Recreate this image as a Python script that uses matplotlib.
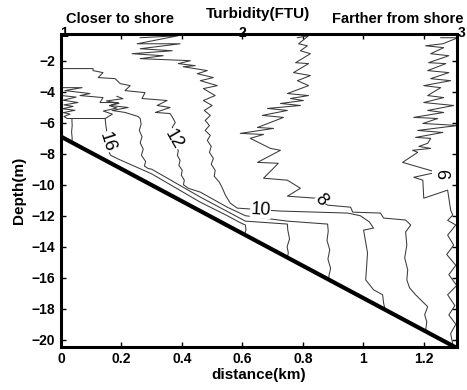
import matplotlib
matplotlib.use("Agg")
import matplotlib.pyplot as plt
import matplotlib.transforms as mtransforms

plt.rcParams['font.family'] = ['Liberation Sans', 'DejaVu Sans']

# seabed
bed_x = [0.0, 1.31]
bed_d = [-6.9, -20.54]

# contour lines (distance km, depth m)
l18_x = [0.003, 0.050, 0.007, 0.056, 0.010, 0.040, 0.005, 0.046, 0.008, 0.030, 0.010, 0.020, 0.146]
l18_d = [-4.25, -4.35, -4.55, -4.7, -4.85, -4.95, -5.1, -5.2, -5.35, -5.45, -5.6, -5.73, -5.73]
drop18_x = [0.036, 0.037, 0.035, 0.037, 0.036]
drop18_d = [-5.73, -6.2, -6.6, -7.0, -7.28]

l16_x = [0.185, 0.205, 0.150, 0.192, 0.160, 0.185, 0.140, 0.170, 0.146, 0.148, 0.151, 0.147, 0.150,
         0.155, 0.160, 0.164, 0.190, 0.300, 0.461, 0.550, 0.593, 0.610, 0.612, 0.609, 0.611]
l16_d = [-4.3, -4.45, -4.6, -4.75, -4.9, -5.05, -5.25, -5.45, -5.73, -6.1, -6.5, -6.9, -7.3,
         -7.7, -7.95, -8.1, -8.35, -9.3, -11.13, -12.0, -12.45, -12.6, -12.9, -13.1, -13.26]

l14_x = [0.007, 0.070, 0.013, 0.096, 0.063, 0.139, 0.129, 0.189, 0.162, 0.222, 0.169, 0.212, 0.255,
         0.262, 0.265, 0.259, 0.268, 0.262, 0.272, 0.266, 0.280, 0.276, 0.288, 0.300, 0.461, 0.610,
         0.749, 0.750, 0.756, 0.748, 0.752, 0.749]
l14_d = [-3.74, -3.74, -3.93, -4.12, -4.25, -4.38, -4.70, -4.70, -4.89, -5.02, -5.21, -5.34, -5.60,
         -5.73, -6.1, -6.5, -6.9, -7.3, -7.7, -8.1, -8.5, -8.8, -8.95, -9.0, -10.8, -12.35,
         -12.54, -12.9, -13.5, -14.0, -14.4, -14.68]

l12_x = [0.0, 0.106, 0.106, 0.139, 0.123, 0.179, 0.196, 0.229, 0.212, 0.278, 0.268, 0.351, 0.318,
         0.361, 0.312, 0.361, 0.371, 0.378, 0.368, 0.381, 0.376, 0.383, 0.380, 0.388, 0.385, 0.394,
         0.390, 0.401, 0.398, 0.408, 0.405, 0.421, 0.461, 0.550, 0.610, 0.749, 0.882, 0.884, 0.880,
         0.889, 0.883, 0.892, 0.886, 0.888]
l12_d = [-2.51, -2.51, -2.64, -2.77, -3.09, -3.16, -3.48, -3.61, -3.93, -4.06, -4.44, -4.57, -4.89,
         -5.02, -5.34, -5.41, -5.73, -5.99, -6.3, -6.6, -6.9, -7.2, -7.5, -7.8, -8.11, -8.43,
         -8.75, -9.07, -9.39, -9.71, -10.0, -10.23, -10.48, -11.45, -12.0, -12.35, -12.54, -13.0, -13.6,
         -14.2, -14.8, -15.4, -15.9, -16.15]

l10_x = [0.262, 0.388, 0.252, 0.394, 0.262, 0.368, 0.235, 0.338, 0.262, 0.428, 0.388, 0.444, 0.404,
         0.484, 0.451, 0.504, 0.461, 0.517, 0.471, 0.510, 0.471, 0.500, 0.474, 0.494, 0.477, 0.491,
         0.477, 0.494, 0.484, 0.497, 0.491, 0.504, 0.497, 0.510, 0.507, 0.524, 0.534, 0.544, 0.560,
         0.583, 0.726, 0.948, 0.990, 1.020, 1.034, 1.001, 1.014, 1.008, 1.034, 1.064, 1.067, 1.072]
l10_d = [-0.52, -0.39, -0.91, -0.91, -1.23, -1.36, -1.55, -1.68, -1.87, -2.0, -2.19, -2.32, -2.39,
         -2.64, -2.84, -3.09, -3.29, -3.61, -3.80, -4.25, -4.57, -4.89, -5.21, -5.53, -5.86, -6.18,
         -6.50, -6.82, -7.14, -7.53, -7.91, -8.30, -8.68, -9.07, -9.46, -9.84, -10.23, -10.68, -11.19,
         -11.51, -11.70, -11.83, -12.0, -12.4, -12.8, -12.93, -14.40, -16.14, -16.78, -17.10, -17.62, -18.05]

l8_x = [0.782, 0.819, 0.786, 0.815, 0.792, 0.825, 0.776, 0.819, 0.769, 0.825, 0.782, 0.819, 0.749,
        0.819, 0.759, 0.802, 0.726, 0.792, 0.683, 0.749, 0.666, 0.736, 0.650, 0.703, 0.593, 0.670,
        0.626, 0.693, 0.726, 0.650, 0.719, 0.670, 0.749, 0.792, 0.749, 0.842, 0.882, 0.958, 0.965,
        1.057, 1.067, 1.140, 1.157, 1.140, 1.144, 1.137, 1.147, 1.144, 1.153, 1.173, 1.213, 1.203,
        1.210, 1.206]
l8_d = [-0.52, -0.39, -0.91, -1.04, -1.36, -1.55, -2.13, -2.19, -2.77, -2.96, -3.29, -3.61, -4.12,
        -4.25, -4.44, -4.57, -4.76, -4.89, -5.08, -5.21, -5.53, -5.66, -6.31, -6.37, -6.69, -6.76,
        -7.01, -7.66, -7.78, -8.56, -8.62, -9.58, -9.71, -10.23, -10.74, -10.87, -11.32, -11.45, -11.77,
        -11.83, -12.15, -12.28, -12.60, -13.05, -13.89, -14.72, -15.50, -16.14, -16.65, -17.10, -17.87, -18.39,
        -18.84, -19.45]

l6_x = [1.256, 1.313, 1.263, 1.206, 1.266, 1.223, 1.283, 1.216, 1.273, 1.213, 1.283, 1.223, 1.289,
        1.200, 1.256, 1.213, 1.266, 1.200, 1.299, 1.213, 1.266, 1.167, 1.246, 1.197, 1.313, 1.180,
        1.263, 1.173, 1.223, 1.213, 1.184, 1.223, 1.163, 1.180, 1.130, 1.243, 1.167, 1.197, 1.200,
        1.279, 1.289, 1.296, 1.279, 1.306, 1.279, 1.299, 1.276, 1.306, 1.283, 1.309, 1.279, 1.303,
        1.283, 1.306, 1.289, 1.296]
l6_d = [-0.52, -0.52, -0.91, -1.04, -1.16, -1.55, -1.68, -2.13, -2.19, -2.64, -2.77, -3.16, -3.29,
        -3.61, -3.74, -4.25, -4.38, -4.70, -4.89, -5.21, -5.34, -5.66, -5.73, -6.05, -6.18, -6.50,
        -6.63, -6.95, -7.01, -7.33, -7.53, -7.66, -7.78, -7.91, -8.56, -9.2, -9.52, -9.71, -10.87,
        -10.35, -11.64, -11.96, -12.3, -12.6, -13.25, -13.9, -14.5, -15.2, -15.8, -16.5, -17.1, -17.8,
        -18.4, -19.0, -19.6, -20.3]

# inline labels
lab_text = ['16', '12', '10', '8', '6']
lab_x = [0.152, 0.372, 0.660, 0.860, 1.256]
lab_d = [-7.25, -7.1, -11.62, -11.0, -9.3]
lab_rot = [-72, -60, -3, -50, -90]

# top axis (turbidity) labels
turb_labels = ['1', '2', '3']
turb_pos = [0.01, 0.60, 1.325]

fig = plt.figure(figsize=(4.67, 3.90), dpi=100)
ax = fig.add_axes([0.1306, 0.111, 0.848, 0.801])

lc = '#3a3a3a'
for xs, ds in [(l18_x, l18_d), (drop18_x, drop18_d), (l16_x, l16_d), (l14_x, l14_d),
               (l12_x, l12_d), (l10_x, l10_d), (l8_x, l8_d), (l6_x, l6_d)]:
    ax.plot(xs, ds, color=lc, lw=0.75)

ax.plot(bed_x, bed_d, color='black', lw=3.0, solid_capstyle='butt')

for t, x, d, r in zip(lab_text, lab_x, lab_d, lab_rot):
    ax.text(x, d, t, fontsize=13, rotation=r, ha='center', va='center', zorder=5,
            bbox=dict(facecolor='white', edgecolor='none', pad=0.2))

ax.set_xlim(0, 1.31)
ax.set_ylim(-20.45, -0.3)
ax.set_xticks([0, 0.2, 0.4, 0.6, 0.8, 1.0, 1.2])
ax.set_xticklabels(['0', '0.2', '0.4', '0.6', '0.8', '1', '1.2'])
ax.set_yticks(range(-20, 0, 2))
ax.tick_params(direction='in', top=True, right=True, length=3.5, width=1.0,
               labelsize=10, pad=4)
for lab in ax.get_xticklabels() + ax.get_yticklabels():
    lab.set_fontweight('bold')
for sp in ax.spines.values():
    sp.set_linewidth(2.2)

ax.set_xlabel('distance(km)', fontsize=11, fontweight='bold', labelpad=1)
ax.set_ylabel('Depth(m)', fontsize=11, fontweight='bold', labelpad=4)

trans = mtransforms.blended_transform_factory(ax.transData, ax.transAxes)
for t, x in zip(turb_labels, turb_pos):
    ax.text(x, 1.004, t, transform=trans, fontsize=10, fontweight='bold',
            ha='center', va='center')

ax.text(0.012, 1.028, 'Closer to shore', transform=ax.transAxes, fontsize=10.5,
        fontweight='bold', ha='left', va='bottom')
ax.text(0.497, 1.065, 'Turbidity(FTU)', transform=ax.transAxes, fontsize=11,
        fontweight='bold', ha='center', va='center')
ax.text(0.685, 1.028, 'Farther from shore', transform=ax.transAxes, fontsize=10.5,
        fontweight='bold', ha='left', va='bottom')

fig.savefig('out.png', dpi=100)
